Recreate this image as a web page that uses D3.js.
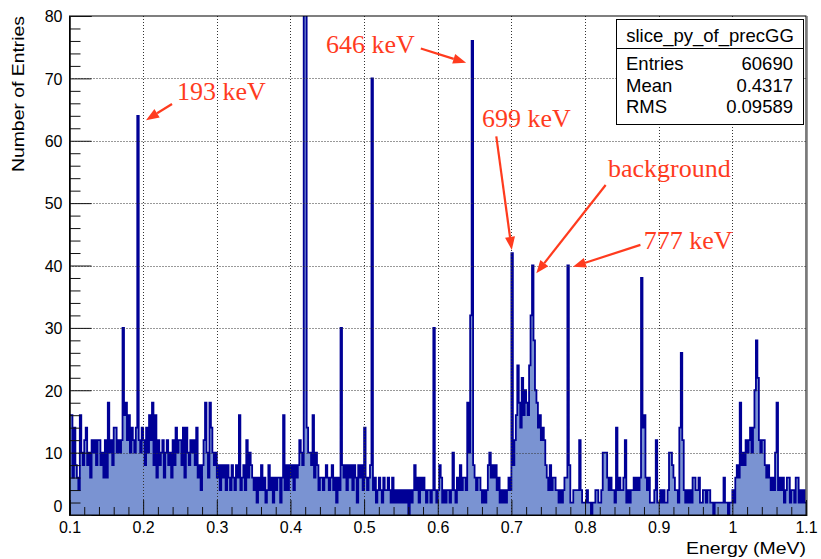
<!DOCTYPE html>
<html><head><meta charset="utf-8">
<script src="https://cdn.jsdelivr.net/npm/d3@7"></script>
<style>body{margin:0;background:#fff}svg{display:block}</style>
</head><body>
<svg id="c" width="821" height="559"></svg>
<script>
// ---------------- data ----------------
const binLow = 0.1;
const binWidth = 0.002;
const counts = [
 16,16,6,14,8,6,4,16,10,8,12,14,8,10,6,12,10,12,8,12,12,8,10,6,12,
 6,18,10,12,8,14,14,10,12,10,12,30,16,18,12,16,10,14,12,10,14,64,12,10,14,
 12,8,14,10,16,12,18,8,16,6,12,8,10,12,6,10,12,8,10,6,12,8,14,10,12,
 12,8,14,6,14,10,8,12,10,12,8,14,6,8,4,8,12,18,10,6,18,14,10,8,10,
 6,8,4,8,6,8,4,8,6,4,8,6,4,8,6,16,4,6,8,4,12,6,10,8,6,
 4,6,2,6,4,8,4,6,2,4,8,4,6,2,6,4,6,6,2,6,16,4,8,4,8,
 6,8,4,8,6,8,12,10,8,90,120,14,10,10,8,16,6,10,8,4,6,6,4,6,8,
 6,4,6,8,4,6,2,6,4,30,8,6,8,4,8,6,8,4,8,6,2,8,6,8,4,
 14,6,4,6,8,70,4,6,2,4,6,4,2,6,4,4,6,4,2,6,2,4,2,4,2,
 4,2,4,2,4,0,4,2,4,8,4,6,2,6,4,6,4,2,4,4,2,4,30,4,2,
 4,8,6,2,4,2,4,4,2,4,10,4,2,6,4,8,4,6,6,4,18,10,32,76,8,
 6,4,6,6,4,2,4,2,4,8,10,6,8,6,8,4,6,2,4,2,4,2,4,6,4,
 42,8,12,16,24,18,14,22,16,20,18,16,24,32,40,28,20,18,14,16,12,14,12,8,6,
 4,8,4,6,6,4,4,2,4,2,4,6,6,40,8,2,2,4,4,4,4,12,4,2,2,
 2,4,2,2,0,2,2,4,4,2,2,4,10,10,10,6,4,6,4,4,2,14,4,6,4,
 4,6,12,2,4,2,4,4,6,4,6,4,6,38,14,16,6,4,6,2,2,2,4,12,2,
 2,4,2,4,2,2,4,10,10,8,6,4,4,2,14,26,12,4,2,4,2,4,2,6,6,
 4,4,6,2,2,4,4,2,4,4,2,2,0,2,2,2,2,2,2,6,2,2,0,2,2,
 4,2,6,8,6,18,8,10,8,12,10,12,14,10,14,20,28,22,12,10,12,12,8,6,8,
 6,4,6,4,10,18,4,6,4,6,2,4,6,6,2,4,4,2,6,6,2,4,2,4,2
];
const xDomain = [0.1, 1.1];
const yDomain = [0, 80];
const xMajorTicks = [0.1,0.2,0.3,0.4,0.5,0.6,0.7,0.8,0.9,1.0,1.1];
const xTickLabels = ["0.1","0.2","0.3","0.4","0.5","0.6","0.7","0.8","0.9","1","1.1"];
const yMajorTicks = [0,10,20,30,40,50,60,70,80];
const yTickLabels = ["0","10","20","30","40","50","60","70","80"];
const xTitle = "Energy (MeV)";
const yTitle = "Number of Entries";
const statsTitle = "slice_py_of_precGG";
const statsNames = ["Entries","Mean","RMS"];
const statsValues = ["60690","0.4317","0.09589"];
// annotation text anchor (energy, count) and arrow from/to in data units
const annoText = ["193 keV","646 keV","699 keV","background","777 keV"];
const annoTextPos = [[0.246,66.5],[0.4483,74.1],[0.6601,62.2],[0.8312,54.2],[0.8796,42.6]];
const annoFrom = [[0.2392,65.9],[0.577,74.8],[0.6795,60.7],[0.828,52.9],[0.8752,43.3]];
const annoTo = [[0.2039,63.3],[0.6385,72.5],[0.7005,42.5],[0.7338,38.75],[0.7836,39.8]];

// ---------------- drawing ----------------
const svg = d3.select("#c");
const L = 69.5, R = 806, T = 16, B = 515;
const x = d3.scaleLinear().domain(xDomain).range([L, R]);
const y = d3.scaleLinear().domain(yDomain).range([B, T]);
const sans = "'Liberation Sans', Arial, Helvetica, sans-serif";
const serif = "'Liberation Serif', 'Times New Roman', serif";

svg.append("rect").attr("width",821).attr("height",559).attr("fill","#fff");

svg.append("defs").append("clipPath").attr("id","plotclip")
  .append("rect").attr("x",L).attr("y",T).attr("width",R-L).attr("height",B-T);

const pts = counts.map((c,i)=>[binLow + i*binWidth, c]);
pts.push([binLow + counts.length*binWidth, counts[counts.length-1]]);

const g = svg.append("g").attr("clip-path","url(#plotclip)");
g.append("path").datum(pts)
  .attr("d", d3.area().x(d=>x(d[0])).y0(y(0)).y1(d=>y(d[1])).curve(d3.curveStepAfter))
  .attr("fill","#7a93d2");
g.append("path").datum(pts)
  .attr("d", d3.line().x(d=>x(d[0])).y(d=>y(d[1])).curve(d3.curveStepAfter))
  .attr("fill","none").attr("stroke","#000096").attr("stroke-width",1.8);

// grid
const grid = svg.append("g").attr("stroke","#333").attr("stroke-width",1).attr("stroke-dasharray","1,2");
xMajorTicks.slice(1,-1).forEach(v=>{
  grid.append("line").attr("x1",Math.round(x(v))+0.5).attr("x2",Math.round(x(v))+0.5).attr("y1",T).attr("y2",B);
});
yMajorTicks.slice(1,-1).forEach(v=>{
  grid.append("line").attr("y1",Math.round(y(v))+0.5).attr("y2",Math.round(y(v))+0.5).attr("x1",L).attr("x2",R);
});

// frame
svg.append("rect").attr("x",L).attr("y",T).attr("width",R-L).attr("height",B-T)
  .attr("fill","none").attr("stroke","#000").attr("stroke-width",1);
svg.append("line").attr("x1",R+1).attr("x2",R+1).attr("y1",T).attr("y2",B+1).attr("stroke","#777").attr("stroke-width",1.5);

// x axis
const xMinor = d3.range(0, 51).map(i=>0.1 + i*0.02).filter(v=>Math.abs(Math.round(v*10)-v*10)>1e-6);
const xAxisMinor = d3.axisBottom(x).tickValues(xMinor).tickSize(-8).tickFormat("");
const xAxisMajor = d3.axisBottom(x).tickValues(xMajorTicks).tickSize(-15).tickPadding(20)
  .tickFormat((d,i)=>xTickLabels[i]);
const gxm = svg.append("g").attr("transform",`translate(0,${B})`).call(xAxisMinor);
const gx = svg.append("g").attr("transform",`translate(0,${B})`).call(xAxisMajor);
[gxm,gx].forEach(a=>{a.select(".domain").attr("stroke","#000"); a.selectAll(".tick line").attr("stroke","#111");});
gx.selectAll(".tick text").attr("font-family",sans).attr("font-size",16).attr("fill","#000")
  .attr("y",18).attr("dy","0");

// y axis
const yMinor = d3.range(0,41).map(i=>i*2).filter(v=>v%10!==0);
const yAxisMinor = d3.axisLeft(y).tickValues(yMinor).tickSize(-11).tickFormat("");
const yAxisMajor = d3.axisLeft(y).tickValues(yMajorTicks).tickSize(-22).tickPadding(30)
  .tickFormat((d,i)=>yTickLabels[i]);
const gym = svg.append("g").attr("transform",`translate(${L},0)`).call(yAxisMinor);
const gy = svg.append("g").attr("transform",`translate(${L},0)`).call(yAxisMajor);
[gym,gy].forEach(a=>{a.select(".domain").attr("stroke","#000"); a.selectAll(".tick line").attr("stroke","#111");});
gy.selectAll(".tick text").attr("font-family",sans).attr("font-size",16).attr("fill","#000")
  .attr("x",-7).attr("dy","0.36em");
gy.selectAll(".tick text").filter(d=>d===0).attr("dy","-0.25em");

// titles
svg.append("text").attr("x",R).attr("y",554).attr("text-anchor","end")
  .attr("font-family",sans).attr("font-size",17).attr("textLength",120).attr("lengthAdjust","spacingAndGlyphs").text(xTitle);
svg.append("text").attr("transform","translate(24,16) rotate(-90)").attr("text-anchor","end")
  .attr("font-family",sans).attr("font-size",17).attr("textLength",156).attr("lengthAdjust","spacingAndGlyphs").text(yTitle);

// stats box
const sb = svg.append("g");
const bx0 = 616, bx1 = 803, by0 = 19, by1 = 124, bsep = 48;
sb.append("rect").attr("x",bx0+0.5).attr("y",by0+0.5).attr("width",bx1-bx0).attr("height",by1-by0)
  .attr("fill","#fff").attr("stroke","#000").attr("stroke-width",1);
sb.append("line").attr("x1",bx0).attr("x2",bx1).attr("y1",bsep+0.5).attr("y2",bsep+0.5).attr("stroke","#000");
sb.append("text").attr("x",(bx0+bx1)/2+0.5).attr("y",42).attr("text-anchor","middle")
  .attr("font-family",sans).attr("font-size",18.5).text(statsTitle);
const rowY = [69.5, 91.5, 113];
statsNames.forEach((n,i)=>{
  sb.append("text").attr("x",626).attr("y",rowY[i]).attr("font-family",sans).attr("font-size",18.5).text(n);
  sb.append("text").attr("x",793).attr("y",rowY[i]).attr("text-anchor","end").attr("font-family",sans).attr("font-size",18.5).text(statsValues[i]);
});

// annotations
const red = "#ff3b1e";
const ag = svg.append("g");
annoText.forEach((t,i)=>{
  ag.append("text").attr("x",x(annoTextPos[i][0])).attr("y",y(annoTextPos[i][1]))
    .attr("font-family",serif).attr("font-size",26).attr("fill",red).text(t);
  const x1 = x(annoFrom[i][0]), y1 = y(annoFrom[i][1]);
  const x2 = x(annoTo[i][0]), y2 = y(annoTo[i][1]);
  const ang = Math.atan2(y2-y1, x2-x1);
  const hl = 13, hw = 5;
  const bxh = x2 - hl*Math.cos(ang), byh = y2 - hl*Math.sin(ang);
  ag.append("line").attr("x1",x1).attr("y1",y1).attr("x2",bxh).attr("y2",byh)
    .attr("stroke",red).attr("stroke-width",2.2);
  const p1 = [bxh + hw*Math.sin(ang), byh - hw*Math.cos(ang)];
  const p2 = [bxh - hw*Math.sin(ang), byh + hw*Math.cos(ang)];
  ag.append("path").attr("d",`M${x2},${y2}L${p1[0]},${p1[1]}L${p2[0]},${p2[1]}Z`).attr("fill",red);
});
</script>
</body></html>
